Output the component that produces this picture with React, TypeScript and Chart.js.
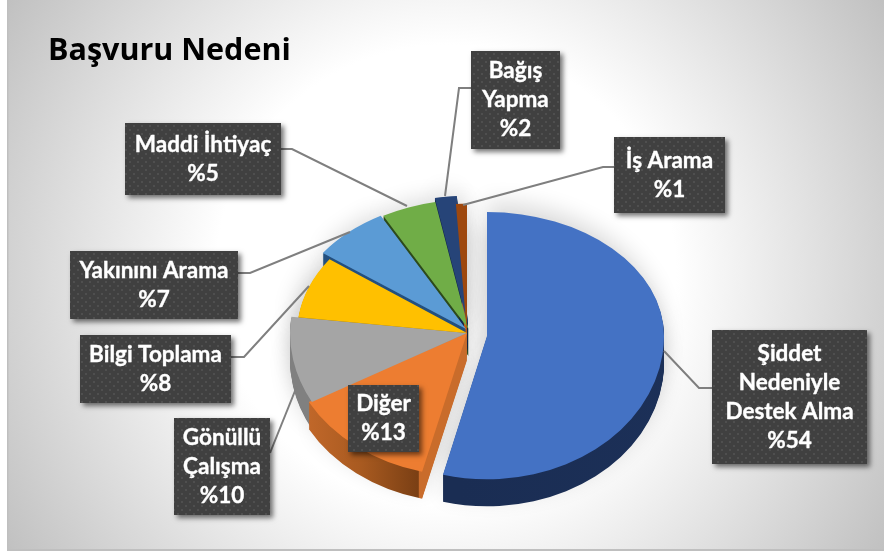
import React, { useEffect, useRef } from "react";
import { Chart, registerables } from "chart.js";

Chart.register(...registerables);

const titleText = "Başvuru Nedeni";
const categories: string[][] = [
  ["Şiddet", "Nedeniyle", "Destek Alma"],
  ["Diğer"],
  ["Gönüllü", "Çalışma"],
  ["Bilgi Toplama"],
  ["Yakınını Arama"],
  ["Maddi İhtiyaç"],
  ["Bağış", "Yapma"],
  ["İş Arama"],
];
const shares = [54, 13, 10, 8, 7, 5, 2, 1];
const topColors = ["#4472c4", "#ed7d31", "#a5a5a5", "#ffc000", "#5b9bd5", "#70ad47", "#264478", "#9e480e"];

// layout only
const W = 884, H = 555;
const CX = 467, CY = 333, R = 177;
const DEPTH = 27;
const moves = [[20, 3], [0, 0], [0, 0], [0, 0], [-1, -4], [1.5, -4], [1, -8], [0, 0]];
const topScale = [0.7, 0.73, 0.73, 0.71, 0.73, 0.73, 0.73, 0.73];
const sideScale = [1, 1.02, 1, 0.96, 1, 1, 1, 1];
const bottomScale = 0.81;
const boxes = [
  [712, 330, 155, 134], [348, 385, 71, 67], [174, 418, 96, 97], [80, 335, 151, 68],
  [70, 251, 168, 68], [125, 123, 156, 72], [471, 51, 89, 98], [614, 137, 111, 76],
];
const leaders: (number[][] | null)[] = [
  [[712, 388], [699, 388], [664, 351]],
  null,
  [[270, 453], [297, 386]],
  [[231, 357], [244, 357], [309, 286]],
  [[238, 273], [250, 273], [350, 232]],
  [[281, 149], [292, 149], [407, 206]],
  [[471, 88], [459, 88], [445, 196]],
  [[614, 167], [603, 167], [463, 205]],
];

function sideFill(ctx: CanvasRenderingContext2D, i: number): string | CanvasGradient {
  if (i === 0) {
    const g = ctx.createLinearGradient(440, 0, 664, 0);
    g.addColorStop(0, "#1a2d53");
    g.addColorStop(1, "#1c3058");
    return g;
  }
  if (i === 1) {
    const g = ctx.createLinearGradient(308, 0, 467, 0);
    g.addColorStop(0, "#c2682a");
    g.addColorStop(0.35, "#a85a20");
    g.addColorStop(0.7, "#7a3f14");
    g.addColorStop(0.705, "#c96c2b");
    g.addColorStop(1, "#c96c2b");
    return g;
  }
  if (i === 2) return "#808080";
  return ["", "", "", "#a07800", "#24507f", "#2d4a1c", "#14274a", "#c2601a"][i];
}

function solid(fill: string | CanvasGradient) {
  return { backgroundColor: fill, borderColor: fill, borderWidth: 0, borderRadius: 0, offset: 0, spacing: 0, circular: true, borderAlign: "center" };
}

function paintWith(arc: any, ctx: CanvasRenderingContext2D, fill: string | CanvasGradient) {
  const saved = arc.options;
  arc.options = solid(fill);
  arc.draw(ctx);
  arc.options = saved;
}

function piecewise(arc: any, ctx: CanvasRenderingContext2D, i: number, depth: number, fill: string | CanvasGradient) {
  const tx = moves[i][0];
  const apexY = Math.round(CY + moves[i][1] + depth);
  for (const part of [0, 1]) {
    ctx.save();
    ctx.beginPath();
    if (part === 0) ctx.rect(0, 0, W, apexY);
    else ctx.rect(0, apexY, W, H - apexY);
    ctx.clip();
    ctx.translate(arc.x + tx, apexY);
    ctx.scale(sideScale[i], part === 0 ? topScale[i] : bottomScale);
    ctx.translate(-arc.x, -arc.y);
    paintWith(arc, ctx, fill);
    ctx.restore();
  }
}

function softShadow(arc: any, ctx: CanvasRenderingContext2D, i: number, depth: number) {
  const away = 3000;
  ctx.save();
  ctx.shadowColor = "rgba(0,0,0,0.14)";
  ctx.shadowBlur = 22;
  ctx.shadowOffsetX = away;
  ctx.shadowOffsetY = 0;
  ctx.translate(moves[i][0] - away, CY + moves[i][1] + depth);
  ctx.scale(1, 0.76);
  ctx.translate(0, -arc.y);
  paintWith(arc, ctx, "#000");
  ctx.restore();
}

const piePlugin = {
  id: "tiltedPie",
  beforeDraw(chart: any) {
    const ctx: CanvasRenderingContext2D = chart.ctx;
    ctx.save();
    ctx.fillStyle = "#ffffff";
    ctx.fillRect(0, 0, W, H);
    ctx.beginPath();
    ctx.rect(7, 0, W - 7, 550);
    ctx.clip();
    const g = ctx.createRadialGradient(446, 275, 0, 446, 275, 520);
    g.addColorStop(0, "#ffffff");
    g.addColorStop(230 / 520, "#ffffff");
    g.addColorStop(1, "#c0c0c0");
    ctx.fillStyle = g;
    ctx.fillRect(0, 0, W, H);
    ctx.restore();
    ctx.fillStyle = "#bfbfbf";
    ctx.fillRect(7, 549, W - 7, 2);
    ctx.fillRect(7, 0, 1.5, 551);
  },
  beforeDatasetsDraw(chart: any) {
    const ctx: CanvasRenderingContext2D = chart.ctx;
    const arcs: any[] = chart.getDatasetMeta(0).data;
    arcs.forEach((a, i) => {
      softShadow(a, ctx, i, 0);
      softShadow(a, ctx, i, DEPTH);
    });
    for (const i of [5, 6, 7, 4, 3, 2, 1, 0]) {
      const fill = sideFill(ctx, i);
      for (let d = DEPTH; d >= 1; d--) piecewise(arcs[i], ctx, i, d, fill);
    }
    arcs.forEach((a, i) => piecewise(a, ctx, i, 0, topColors[i]));
    return false;
  },
  afterDraw(chart: any) {
    const ctx: CanvasRenderingContext2D = chart.ctx;
    ctx.save();
    ctx.fillStyle = "#000";
    ctx.font = "700 30.5px 'Open Sans'";
    ctx.textAlign = "left";
    ctx.textBaseline = "alphabetic";
    ctx.fillText(titleText, 48, 60);
    ctx.restore();

    ctx.save();
    ctx.strokeStyle = "#7f7f7f";
    ctx.lineWidth = 2;
    leaders.forEach((pts) => {
      if (!pts) return;
      ctx.beginPath();
      pts.forEach((p, k) => (k ? ctx.lineTo(p[0], p[1]) : ctx.moveTo(p[0], p[1])));
      ctx.stroke();
    });
    ctx.restore();

    const tile = document.createElement("canvas");
    tile.width = 8;
    tile.height = 8;
    const t = tile.getContext("2d")!;
    t.fillStyle = "#404040";
    t.fillRect(0, 0, 8, 8);
    t.fillStyle = "#4f4f4f";
    t.fillRect(1, 1, 2, 2);
    t.fillRect(5, 5, 2, 2);
    const pattern = ctx.createPattern(tile, "repeat")!;

    boxes.forEach((b, i) => {
      const [x, y, w, h] = b;
      ctx.save();
      ctx.shadowColor = "rgba(0,0,0,0.55)";
      ctx.shadowBlur = 5;
      ctx.shadowOffsetX = 3;
      ctx.shadowOffsetY = 3;
      ctx.fillStyle = "#404040";
      ctx.fillRect(x, y, w, h);
      ctx.restore();
      ctx.save();
      ctx.fillStyle = pattern;
      ctx.fillRect(x, y, w, h);
      ctx.fillStyle = "#ffffff";
      ctx.strokeStyle = "#ffffff";
      ctx.lineWidth = 0.35;
      ctx.font = "700 22.5px Lato";
      ctx.textAlign = "center";
      ctx.textBaseline = "middle";
      const lines = [...categories[i], `%${shares[i]}`];
      const step = 29;
      const start = y + h / 2 - ((lines.length - 1) * step) / 2;
      lines.forEach((ln, k) => {
        ctx.fillText(ln, x + w / 2, start + k * step);
        ctx.strokeText(ln, x + w / 2, start + k * step);
      });
      ctx.restore();
    });
  },
};

export default function App() {
  const ref = useRef<HTMLCanvasElement>(null);
  useEffect(() => {
    const chart = new Chart(ref.current!, {
      type: "pie",
      data: {
        labels: categories.map((c) => c.join(" ")),
        datasets: [{ data: shares, backgroundColor: topColors, borderWidth: 0 }],
      },
      options: {
        responsive: false,
        animation: false,
        layout: { padding: { left: CX - R, right: W - CX - R, top: CY - R, bottom: H - CY - R } },
        plugins: { legend: { display: false }, tooltip: { enabled: false }, title: { display: false } },
      },
      plugins: [piePlugin],
    } as any);
    return () => chart.destroy();
  }, []);
  return (
    <div style={{ position: "absolute", left: 0, top: 0, width: W, height: H }}>
      <canvas ref={ref} width={W} height={H} style={{ display: "block" }} />
    </div>
  );
}
